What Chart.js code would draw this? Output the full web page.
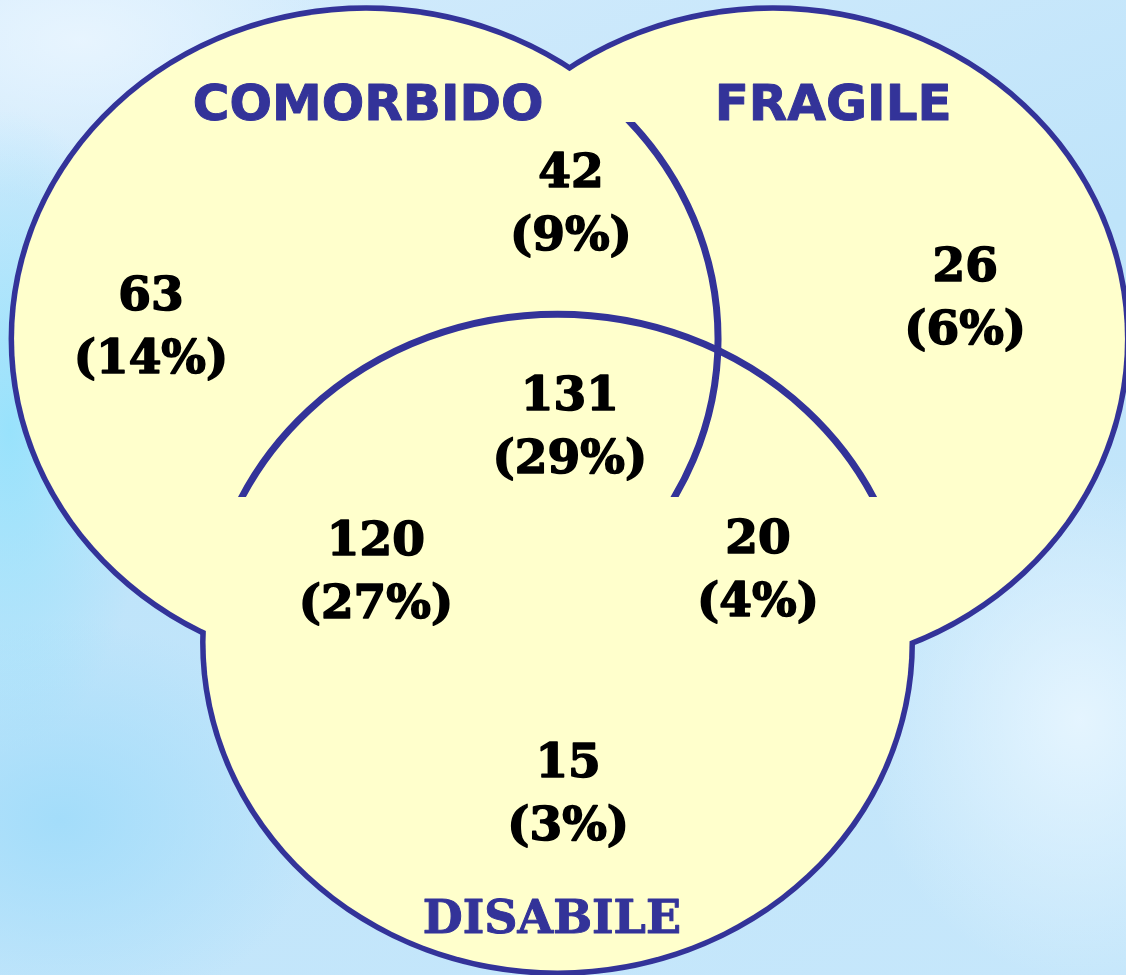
<!DOCTYPE html>
<html>
<head>
<meta charset="utf-8">
<script src="https://cdn.jsdelivr.net/npm/chart.js@4.4.0/dist/chart.umd.min.js"></script>
<style>
    html, body { margin: 0; padding: 0; }
    body {
        width: 1126px;
        height: 975px;
        overflow: hidden;
        background:
            radial-gradient(ellipse 140px 320px at 10px 430px, rgba(150, 226, 252, 0.95), rgba(150, 226, 252, 0) 100%),
            radial-gradient(ellipse 260px 200px at 60px 820px, rgba(160, 220, 250, 0.9), rgba(160, 220, 250, 0) 100%),
            radial-gradient(ellipse 300px 160px at 80px 40px, rgba(235, 246, 255, 0.85), rgba(235, 246, 255, 0) 100%),
            radial-gradient(ellipse 220px 260px at 1080px 720px, rgba(232, 246, 255, 0.9), rgba(232, 246, 255, 0) 100%),
            linear-gradient(160deg, #d3ebfc 0%, #bfe4fa 45%, #c6e7fb 100%);
    }
    canvas { display: block; }
</style>
</head>
<body>
<canvas id="vennChart" width="1126" height="975"></canvas>
<script>
// insiemi (cerchi di raggio 1 in unità dati)
const setNames = ['COMORBIDO', 'FRAGILE', 'DISABILE'];
const setCentreX = [-0.551, 0.605, -0.007];
const setCentreY = [0.491, 0.491, -0.434];
const setRadius = 1;
const setLabelX = [-0.545, 0.776, -0.023];
const setLabelY = [1.159, 1.159, -1.320];

// regioni: solo C, C∩F, solo F, C∩F∩D, C∩D, F∩D, solo D
const regionCounts = [63, 42, 26, 131, 120, 20, 15];
const regionPercents = [14, 9, 6, 29, 27, 4, 3];
const regionX = [-1.162, 0.031, 1.151, 0.028, -0.523, 0.5625, 0.023];
const regionY = [0.540, 0.915, 0.628, 0.235, -0.207, -0.201, -0.884];

const lineColour = '#333399';
const fillColour = '#ffffcc';

const vennPlugin = {
    id: 'venn',
    beforeDatasetsDraw(chart) {
        const ctx = chart.ctx;
        const xs = chart.scales.x, ys = chart.scales.y;
        const shapes = setCentreX.map((cx, i) => ({
            x: xs.getPixelForValue(cx),
            y: ys.getPixelForValue(setCentreY[i]),
            rx: xs.getPixelForValue(cx + setRadius) - xs.getPixelForValue(cx),
            ry: ys.getPixelForValue(setCentreY[i] - setRadius) - ys.getPixelForValue(setCentreY[i])
        }));
        const path = s => {
            ctx.beginPath();
            ctx.ellipse(s.x, s.y, s.rx, s.ry, 0, 0, Math.PI * 2);
        };

        ctx.save();
        // bordo esterno: metà tratto resta visibile dopo il riempimento
        ctx.strokeStyle = lineColour;
        ctx.lineWidth = 11;
        shapes.forEach(s => { path(s); ctx.stroke(); });
        ctx.fillStyle = fillColour;
        shapes.forEach(s => { path(s); ctx.fill(); });

        // archi interni
        const bandTop = ys.getPixelForValue(1.152);
        const bandBottom = ys.getPixelForValue(0.009);
        ctx.lineWidth = 7;

        ctx.save();
        ctx.beginPath();
        ctx.rect(0, bandTop, chart.width, bandBottom - bandTop);
        ctx.clip();
        path(shapes[1]);
        ctx.clip();
        path(shapes[0]);
        ctx.stroke();
        ctx.restore();

        ctx.save();
        ctx.beginPath();
        ctx.rect(0, 0, chart.width, bandBottom);
        ctx.clip();
        path(shapes[2]);
        ctx.stroke();
        ctx.restore();

        ctx.restore();
    },
    afterDatasetsDraw(chart) {
        const ctx = chart.ctx;
        const xs = chart.scales.x, ys = chart.scales.y;
        ctx.save();
        ctx.textAlign = 'center';
        ctx.textBaseline = 'alphabetic';
        ctx.lineJoin = 'round';

        // nomi degli insiemi
        ctx.fillStyle = lineColour;
        ctx.strokeStyle = lineColour;
        ctx.lineWidth = 1;
        setNames.forEach((name, i) => {
            ctx.font = i === 2 ? 'bold 46px "DejaVu Serif"' : 'bold 50px "DejaVu Sans"';
            const px = xs.getPixelForValue(setLabelX[i]), py = ys.getPixelForValue(setLabelY[i]);
            ctx.fillText(name, px, py);
            ctx.strokeText(name, px, py);
        });

        // conteggi e percentuali
        ctx.fillStyle = '#000000';
        ctx.strokeStyle = '#000000';
        ctx.lineWidth = 1.6;
        ctx.font = 'bold 47px "DejaVu Serif"';
        const meta = chart.getDatasetMeta(0);
        meta.data.forEach((pt, i) => {
            const top = String(regionCounts[i]);
            const bottom = '(' + regionPercents[i] + '%)';
            ctx.fillText(top, pt.x, pt.y - 13);
            ctx.strokeText(top, pt.x, pt.y - 13);
            ctx.fillText(bottom, pt.x, pt.y + 50);
            ctx.strokeText(bottom, pt.x, pt.y + 50);
        });
        ctx.restore();
    }
};

new Chart(document.getElementById('vennChart'), {
    type: 'scatter',
    data: {
        datasets: [{
            label: 'Regioni',
            data: regionX.map((x, i) => ({ x: x, y: regionY[i] })),
            pointRadius: 0
        }]
    },
    options: {
        responsive: false,
        animation: false,
        events: [],
        layout: { padding: 0 },
        plugins: {
            legend: { display: false },
            tooltip: { enabled: false }
        },
        scales: {
            x: { type: 'linear', min: -1.591, max: 1.608, display: false },
            y: { type: 'linear', min: -1.448, max: 1.524, display: false }
        }
    },
    plugins: [vennPlugin]
});
</script>
</body>
</html>
